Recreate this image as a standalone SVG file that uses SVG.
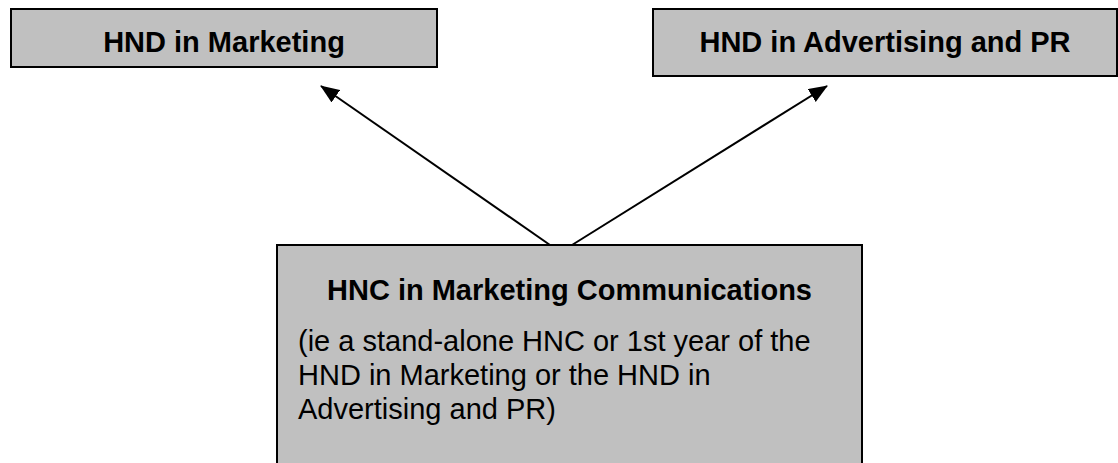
<svg xmlns="http://www.w3.org/2000/svg" width="1118" height="463" viewBox="0 0 1118 463">
<style>
.box{fill:#c0c0c0;stroke:#000;stroke-width:2}
.t{font-family:"Liberation Sans",Arial,sans-serif;font-size:29px;fill:#000}
.b{font-weight:bold}
.c{stroke:#000;stroke-width:2;fill:none}
</style>
<defs>
<marker id="ah" markerUnits="userSpaceOnUse" markerWidth="20" markerHeight="16" refX="18" refY="7.5" orient="auto">
<path d="M0,0 L19,7.5 L0,15 z" fill="#000"/>
</marker>
</defs>
<rect width="1118" height="463" fill="#fff"/>
<g id="connectors">
<line class="c" x1="550" y1="245" x2="321" y2="86" marker-end="url(#ah)"/>
<line class="c" x1="572" y1="245" x2="827" y2="86" marker-end="url(#ah)"/>
</g>
<g id="hnd-marketing">
<rect class="box" x="11" y="9" width="426" height="58"/>
<text class="t b" x="224" y="52" text-anchor="middle">HND in Marketing</text>
</g>
<g id="hnd-advertising">
<rect class="box" x="653" y="9" width="464" height="67"/>
<text class="t b" x="885" y="52" text-anchor="middle">HND in Advertising and PR</text>
</g>
<g id="hnc-marcomms">
<rect class="box" x="277" y="245" width="585" height="230"/>
<text class="t b" x="569.5" y="300" text-anchor="middle">HNC in Marketing Communications</text>
<text class="t" x="298" y="351">(ie a stand-alone HNC or 1st year of the</text>
<text class="t" x="298" y="385">HND in Marketing or the HND in</text>
<text class="t" x="298" y="419">Advertising and PR)</text>
</g>
</svg>
